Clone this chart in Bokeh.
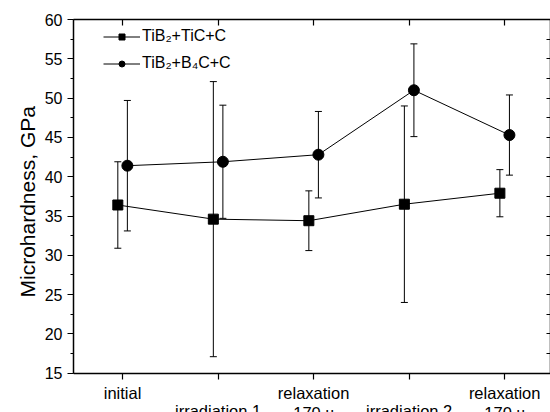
from bokeh.plotting import figure
from bokeh.models import (ColumnDataSource, Whisker, TeeHead, LinearAxis, FixedTicker,
                          SingleIntervalTicker, Range1d, Legend, LegendItem, Title,
                          CustomJSTickFormatter)
from bokeh.embed import file_html
from bokeh.resources import INLINE

# ---------------- data ----------------
categories = ["initial", "irradiation 1", "relaxation\n170 ч", "irradiation 2", "relaxation\n170 ч"]
cat_pos = [1, 2, 3, 4, 5]
series_names = ["TiB\u2082+TiC+C", "TiB\u2082+B\u2084C+C"]
tic_mean = [36.4, 34.6, 34.4, 36.5, 37.9]
tic_err = [5.5, 17.5, 3.8, 12.5, 3.0]
b4c_mean = [41.4, 41.9, 42.8, 51.0, 45.3]
b4c_err = [8.3, 7.2, 5.5, 5.9, 5.1]
y_min, y_max = 15, 60
y_label = "Microhardness, GPa"

FONT = "Liberation Sans"
OFFSET = 0.05

p = figure(width=550, height=412, x_range=Range1d(0.486, 5.48), y_range=Range1d(10, y_max),
           output_backend="svg", toolbar_location=None,
           min_border_left=73, min_border_right=0, min_border_top=19, min_border_bottom=0)
p.outline_line_color = None
p.xgrid.visible = False
p.ygrid.visible = False
p.background_fill_color = "white"
p.border_fill_color = "white"

empty = CustomJSTickFormatter(code="return ''")

# bottom axis (row 1 labels), placed at y = y_min inside the frame
odd_pos = [c for i, c in enumerate(cat_pos) if i % 2 == 0]
even_pos = [c for i, c in enumerate(cat_pos) if i % 2 == 1]
xa = p.xaxis[0]
xa.fixed_location = y_min
xa.ticker = FixedTicker(ticks=odd_pos)
xa.major_label_overrides = {c: t for i, (c, t) in enumerate(zip(cat_pos, categories)) if i % 2 == 0}
xa.major_tick_out = 6
xa.major_tick_in = 0
xa.minor_tick_out = 0
xa.minor_tick_in = 0
xa.axis_line_width = 1.5
xa.major_tick_line_width = 1.2
xa.axis_line_color = "black"
xa.major_tick_line_color = "black"
xa.major_label_standoff = 5
xa.major_label_text_font = FONT
xa.major_label_text_font_size = "16.5px"
xa.major_label_text_color = "black"
xa.major_label_text_line_height = 1.1

# second bottom axis (row 2 labels)
xb = LinearAxis(fixed_location=y_min, ticker=FixedTicker(ticks=even_pos),
                major_label_overrides={c: t for i, (c, t) in enumerate(zip(cat_pos, categories)) if i % 2 == 1},
                major_tick_out=6, major_tick_in=0, minor_tick_out=0, minor_tick_in=0,
                axis_line_color=None, major_tick_line_color="black", major_tick_line_width=1.2,
                major_label_standoff=23, major_label_text_font=FONT,
                major_label_text_font_size="16.5px", major_label_text_color="black")
p.add_layout(xb, "below")

# left axis
ya = p.yaxis[0]
ya.bounds = (y_min, y_max)
ya.ticker = SingleIntervalTicker(interval=5, num_minor_ticks=2)
ya.major_tick_out = 6
ya.major_tick_in = 0
ya.minor_tick_out = 3
ya.minor_tick_in = 0
ya.axis_line_width = 1.5
ya.major_tick_line_width = 1.2
ya.minor_tick_line_width = 1.2
ya.axis_line_color = "black"
ya.major_tick_line_color = "black"
ya.minor_tick_line_color = "black"
ya.major_label_standoff = 5
ya.major_label_text_font = FONT
ya.major_label_text_font_size = "16px"
ya.major_label_text_color = "black"

# y-axis title, placed along the bounded axis (15..60)
p.add_layout(Title(text=y_label, align="left", offset=115, standoff=5,
                   text_font=FONT, text_font_size="21px", text_font_style="normal",
                   text_color="black"), "left")

# top axis
ta = LinearAxis(ticker=FixedTicker(ticks=cat_pos), formatter=empty,
                major_tick_in=6, major_tick_out=0, minor_tick_in=0, minor_tick_out=0,
                major_label_standoff=0, axis_line_width=1.5, major_tick_line_width=1.2,
                axis_line_color="black", major_tick_line_color="black")
p.add_layout(ta, "above")

# right axis
ra = LinearAxis(bounds=(y_min, y_max), ticker=SingleIntervalTicker(interval=2.5, num_minor_ticks=0),
                formatter=empty,
                major_tick_in=4, major_tick_out=0, minor_tick_in=0, minor_tick_out=0,
                major_label_standoff=0, axis_line_width=1.5, major_tick_line_width=1.2,
                axis_line_color="black", major_tick_line_color="black")
p.add_layout(ra, "right")

# data sources
x1 = [c - OFFSET for c in cat_pos]
x2 = [c + OFFSET for c in cat_pos]
src1 = ColumnDataSource(dict(x=x1, y=tic_mean,
                             upper=[m + e for m, e in zip(tic_mean, tic_err)],
                             lower=[m - e for m, e in zip(tic_mean, tic_err)]))
src2 = ColumnDataSource(dict(x=x2, y=b4c_mean,
                             upper=[m + e for m, e in zip(b4c_mean, b4c_err)],
                             lower=[m - e for m, e in zip(b4c_mean, b4c_err)]))

for src in (src1, src2):
    w = Whisker(base="x", upper="upper", lower="lower", source=src, dimension="height",
                line_color="black", line_width=1,
                upper_head=TeeHead(size=7, line_color="black", line_width=1),
                lower_head=TeeHead(size=7, line_color="black", line_width=1))
    p.add_layout(w)

l1 = p.line("x", "y", source=src1, line_color="black", line_width=1)
s1 = p.scatter("x", "y", source=src1, marker="square", size=10, fill_color="black", line_color="black")
l2 = p.line("x", "y", source=src2, line_color="black", line_width=1)
s2 = p.scatter("x", "y", source=src2, marker="circle", size=11, fill_color="black", line_color="black")

legend = Legend(items=[LegendItem(label=series_names[0], renderers=[l1, s1]),
                       LegendItem(label=series_names[1], renderers=[l2, s2])],
                location=(30, 340), glyph_width=37, glyph_height=15, spacing=9,
                padding=0, margin=0, label_standoff=2,
                background_fill_alpha=0, border_line_color=None,
                label_text_font=FONT, label_text_font_size="16px", label_text_color="black")
p.add_layout(legend)

open("out.html", "w").write(file_html(p, INLINE))
